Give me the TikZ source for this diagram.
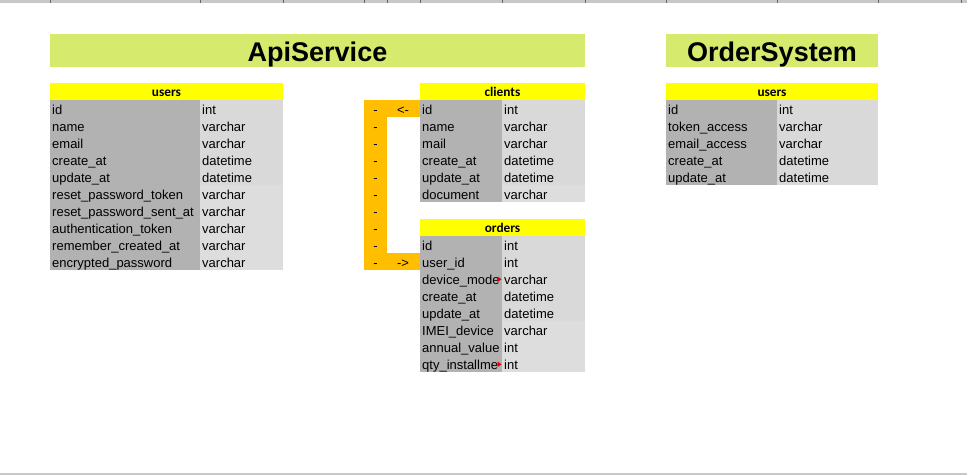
\documentclass[tikz,border=0pt]{standalone}
\usepackage{fontspec}
\setmainfont{Liberation Sans}
\newfontfamily\hdrfont{Carlito}

\definecolor{titlebar}{RGB}{214,234,110}
\definecolor{hdryellow}{RGB}{255,255,0}
\definecolor{keygrey}{RGB}{178,178,178}
\definecolor{typegrey}{RGB}{217,217,217}
\definecolor{typegreyb}{RGB}{221,221,221}
\definecolor{linkorange}{RGB}{255,191,0}
\definecolor{sheetgrey}{RGB}{200,200,200}
\definecolor{overflowred}{RGB}{220,0,0}

\begin{document}
\begin{tikzpicture}[x=1pt,y=-1pt,
  every node/.style={inner sep=0pt},
  fld/.style={anchor=base west,font=\fontsize{13}{15}\selectfont},
  hdr/.style={anchor=base,font=\hdrfont\bfseries\fontsize{13.3}{15}\selectfont},
  ttl/.style={anchor=base,font=\bfseries\fontsize{27}{30}\selectfont}]
\useasboundingbox (0,0) rectangle (967,475);
\fill [sheetgrey] (0,0) rectangle (967,2.5);
\foreach \x in {50,200,283,364,387,420,502,585,666,777,878,961}
  \draw [black!60,line width=0.8pt] (\x,0) -- (\x,2.5);
\fill [sheetgrey] (0,472.5) rectangle (967,475);
% ApiService
\fill [titlebar] (50,34) rectangle (585,66.7);
\node [ttl] (apiservice) at (317.5,61.5) {ApiService};
\fill [hdryellow] (50,83) rectangle (283,100);
\node [hdr] (apiusers) at (166.5,96.5) {users};
\fill [keygrey] (50,100) rectangle (200,270);
\fill [typegrey] (200,100) rectangle (283,185);
\fill [typegreyb] (200,185) rectangle (283,270);
\foreach \n/\t [count=\i] in {id/int,name/varchar,email/varchar,create\_at/datetime,update\_at/datetime,reset\_password\_token/varchar,reset\_password\_sent\_at/varchar,authentication\_token/varchar,remember\_created\_at/varchar,encrypted\_password/varchar}{
  \node [fld] (apiusers\i) at (52,{97+17*\i}) {\n};
  \node [fld] (apiuserst\i) at (202,{97+17*\i}) {\t};
}
\fill [hdryellow] (420,83) rectangle (585,100);
\node [hdr] (clients) at (502.5,96.5) {clients};
\fill [keygrey] (420,100) rectangle (502,202);
\fill [typegrey] (502,100) rectangle (585,185);
\fill [typegreyb] (502,185) rectangle (585,202);
\foreach \n/\t [count=\i] in {id/int,name/varchar,mail/varchar,create\_at/datetime,update\_at/datetime,document/varchar}{
  \node [fld] (clients\i) at (422,{97+17*\i}) {\n};
  \node [fld] (clientst\i) at (504,{97+17*\i}) {\t};
}
\fill [hdryellow] (420,219) rectangle (585,236);
\node [hdr] (orders) at (502.5,232.5) {orders};
\fill [keygrey] (420,236) rectangle (502,372);
\fill [typegrey] (502,236) rectangle (585,321);
\fill [typegreyb] (502,321) rectangle (585,372);
\foreach \n/\t [count=\i] in {id/int,user\_id/int,device\_mode/varchar,create\_at/datetime,update\_at/datetime,IMEI\_device/varchar,annual\_value/int,qty\_installme/int}{
  \node [fld] (orders\i) at (422,{233+17*\i}) {\n};
  \node [fld] (orderst\i) at (504,{233+17*\i}) {\t};
}
\foreach \y in {279.3,364.3}
  \fill [overflowred] (497.5,\y-2.8) -- (501.5,\y) -- (497.5,\y+2.8) -- cycle;
% link clients.id -- orders.user_id
\fill [linkorange] (364,100) rectangle (387,270);
\fill [linkorange] (387,100) rectangle (420,117);
\fill [linkorange] (387,253) rectangle (420,270);
\foreach \i in {1,...,10}
  \node [fld,anchor=base] (dash\i) at (375.5,{97+17*\i}) {-};
\node [fld,anchor=base] (toid) at (403,114) {<-};
\node [fld,anchor=base] (touserid) at (403,267) {->};
% OrderSystem
\fill [titlebar] (666,34) rectangle (878,66.7);
\node [ttl] (ordersystem) at (772,61.5) {OrderSystem};
\fill [hdryellow] (666,83) rectangle (878,100);
\node [hdr] (osusers) at (772,96.5) {users};
\fill [keygrey] (666,100) rectangle (777,185);
\fill [typegrey] (777,100) rectangle (878,185);
\foreach \n/\t [count=\i] in {id/int,token\_access/varchar,email\_access/varchar,create\_at/datetime,update\_at/datetime}{
  \node [fld] (osusers\i) at (668,{97+17*\i}) {\n};
  \node [fld] (osuserst\i) at (779,{97+17*\i}) {\t};
}
\end{tikzpicture}
\end{document}
